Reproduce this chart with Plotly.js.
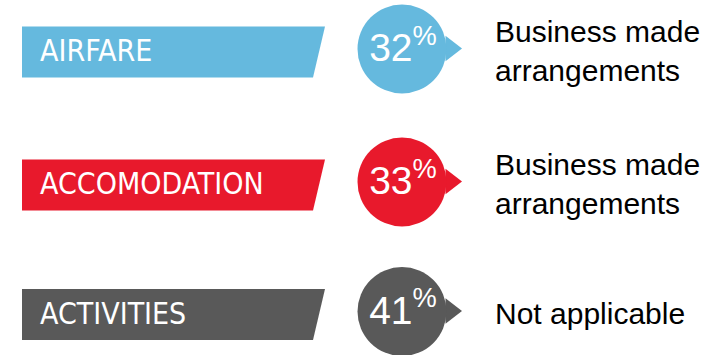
<!DOCTYPE html>
<html><head><meta charset="utf-8">
<script src="https://cdn.plot.ly/plotly-3.0.1.min.js"></script>
<style>html,body{margin:0;padding:0;background:#fff}#c{width:711px;height:355px}</style>
</head><body><div id="c"></div>
<script>
const categories = ['AIRFARE', 'ACCOMODATION', 'ACTIVITIES'];
const percents = [32, 33, 41];
const answers = ['Business made<br>arrangements', 'Business made<br>arrangements', 'Not applicable'];
const colors = ['#65B9DE', '#E8192C', '#595959'];

// layout (pixel-space)
const rowY = [52.5, 185.5, 315];
const traces = [];
const labelFont = "'Liberation Sans Narrow', 'DejaVu Sans Condensed', 'Liberation Sans', sans-serif";
categories.forEach((cat, i) => {
  const yc = rowY[i];
  traces.push({
    type: 'scatter', mode: 'lines', fill: 'toself', fillcolor: colors[i],
    line: {width: 0, color: colors[i]}, hoverinfo: 'skip',
    x: [22, 325, 313, 22, 22], y: [yc - 26, yc - 26, yc + 25, yc + 25, yc - 26]
  });
  traces.push({
    type: 'scatter', mode: 'text', x: [40], y: [yc + 1], text: [cat],
    textposition: 'middle right', hoverinfo: 'skip',
    textfont: {family: labelFont, size: 30, color: '#ffffff'}
  });
  // pointer
  traces.push({
    type: 'scatter', mode: 'markers', x: [451], y: [yc - 4], hoverinfo: 'skip',
    marker: {symbol: 'triangle-right', size: 22, color: colors[i], line: {width: 0}}
  });
  // bubble
  traces.push({
    type: 'scatter', mode: 'markers', x: [402], y: [yc - 3.5], hoverinfo: 'skip',
    marker: {symbol: 'circle', size: 89, color: colors[i], line: {width: 0}}
  });
  traces.push({
    type: 'scatter', mode: 'text', x: [403], y: [yc - 1], hoverinfo: 'skip',
    text: [percents[i] + '<sup>%</sup>'], textposition: 'middle center',
    textfont: {family: "'Liberation Sans', Arial, sans-serif", size: 39, color: '#ffffff'}
  });
  traces.push({
    type: 'scatter', mode: 'text', x: [495], y: [yc + 1], text: [answers[i]],
    textposition: 'middle right', hoverinfo: 'skip',
    textfont: {family: "'Liberation Sans', Arial, sans-serif", size: 30, color: '#000000'}
  });
});

Plotly.newPlot('c', traces, {
  width: 711, height: 355, margin: {l: 0, r: 0, t: 0, b: 0},
  paper_bgcolor: '#ffffff', plot_bgcolor: '#ffffff', showlegend: false,
  xaxis: {range: [0, 711], visible: false, fixedrange: true},
  yaxis: {range: [355, 0], visible: false, fixedrange: true}
}, {staticPlot: true});
</script></body></html>
